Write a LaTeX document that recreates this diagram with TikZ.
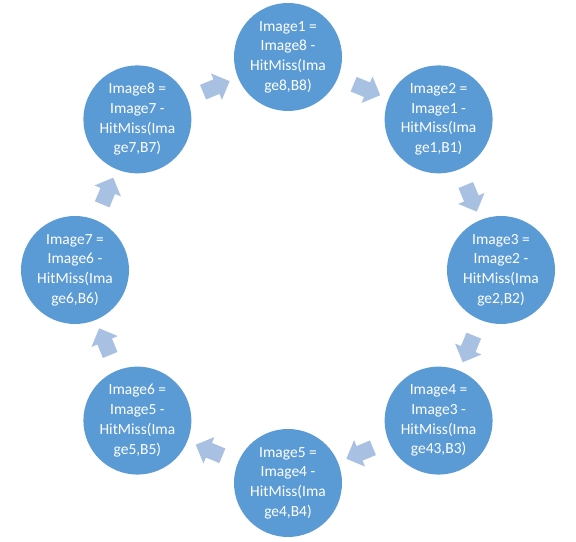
\documentclass[tikz,border=0pt]{standalone}
\usepackage{fontspec}
\setmainfont{Carlito}
\usepackage{xcolor}
\usepackage{tikz}
\usetikzlibrary{shapes.arrows, positioning, calc}

\definecolor{stepblue}{RGB}{91,155,213}
\definecolor{arrowblue}{RGB}{168,192,226}

\begin{document}
\begin{tikzpicture}[
    stage/.style={circle, fill=stepblue, draw=none, minimum size=2.7cm, inner sep=0pt, align=center, text=white, font=\fontsize{11}{14}\selectfont},
    turn/.style={single arrow, fill=arrowblue, draw=none, minimum height=0.72cm, inner xsep=0pt, inner ysep=0.19cm, single arrow head extend=0.16cm, rotate=#1}
]
\useasboundingbox (0,0) rectangle (14.4,13.55);

% Stage circles
\node[stage] (img1) at (7.2, 12.125) {Image1 =\\Image8 -\\HitMiss(Ima\\ge8,B8)};
\node[stage] (img2) at (10.965, 10.565) {Image2 =\\Image1 -\\HitMiss(Ima\\ge1,B1)};
\node[stage] (img3) at (12.525, 6.8) {Image3 =\\Image2 -\\HitMiss(Ima\\ge2,B2)};
\node[stage] (img4) at (10.965, 3.035) {Image4 =\\Image3 -\\HitMiss(Ima\\ge43,B3)};
\node[stage] (img5) at (7.2, 1.475) {Image5 =\\Image4 -\\HitMiss(Ima\\ge4,B4)};
\node[stage] (img6) at (3.435, 3.035) {Image6 =\\Image5 -\\HitMiss(Ima\\ge5,B5)};
\node[stage] (img7) at (1.875, 6.8) {Image7 =\\Image6 -\\HitMiss(Ima\\ge6,B6)};
\node[stage] (img8) at (3.435, 10.565) {Image8 =\\Image7 -\\HitMiss(Ima\\ge7,B7)};

% Cycle arrows between neighbours
\node[turn=-22.5] (a12) at ($(img1)!0.5!(img2)$) {};
\node[turn=-67.5] (a23) at ($(img2)!0.5!(img3)$) {};
\node[turn=-112.5] (a34) at ($(img3)!0.5!(img4)$) {};
\node[turn=-157.5] (a45) at ($(img4)!0.5!(img5)$) {};
\node[turn=157.5] (a56) at ($(img5)!0.5!(img6)$) {};
\node[turn=112.5] (a67) at ($(img6)!0.5!(img7)$) {};
\node[turn=67.5] (a78) at ($(img7)!0.5!(img8)$) {};
\node[turn=22.5] (a81) at ($(img8)!0.5!(img1)$) {};

\end{tikzpicture}
\end{document}
